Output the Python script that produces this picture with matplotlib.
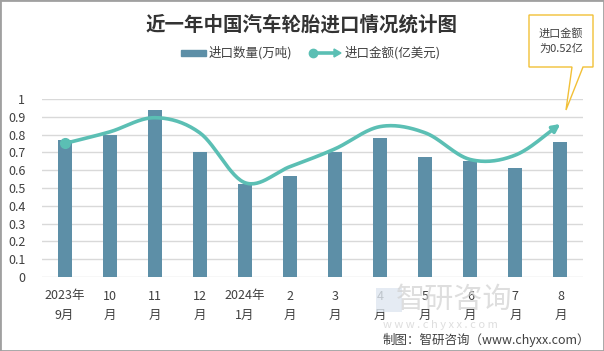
import numpy as np
import matplotlib.pyplot as plt
from matplotlib.patches import Rectangle, Polygon

plt.rcParams['font.family'] = ['Noto Sans CJK SC', 'DejaVu Sans']

# data
months = ['2023年\n9月', '10\n月', '11\n月', '12\n月', '2024年\n1月', '2\n月',
          '3\n月', '4\n月', '5\n月', '6\n月', '7\n月', '8\n月']
qty = [0.77, 0.80, 0.94, 0.70, 0.52, 0.57, 0.70, 0.78, 0.675, 0.65, 0.61, 0.76]   # 万吨
amount = [0.75, 0.815, 0.895, 0.81, 0.53, 0.62, 0.72, 0.845, 0.81, 0.66, 0.685, 0.86]  # 亿美元

bar_color = '#5d8fa7'
line_color = '#5bbfb4'


def catmull(xs, ys, n=30):
    # smooth line like the office chart
    xs = np.asarray(xs, float)
    ys = np.asarray(ys, float)
    px = np.concatenate([[2 * xs[0] - xs[1]], xs, [2 * xs[-1] - xs[-2]]])
    py = np.concatenate([[2 * ys[0] - ys[1]], ys, [2 * ys[-1] - ys[-2]]])
    out_x, out_y = [], []
    for i in range(1, len(px) - 2):
        t = np.linspace(0, 1, n, endpoint=False)
        for p, out in ((px, out_x), (py, out_y)):
            p0, p1, p2, p3 = p[i - 1], p[i], p[i + 1], p[i + 2]
            out.extend(0.5 * (2 * p1 + (-p0 + p2) * t + (2 * p0 - 5 * p1 + 4 * p2 - p3) * t ** 2
                              + (-p0 + 3 * p1 - 3 * p2 + p3) * t ** 3))
    out_x.append(xs[-1])
    out_y.append(ys[-1])
    return np.array(out_x), np.array(out_y)


fig = plt.figure(figsize=(6.04, 3.51), dpi=100)

# watermark (behind everything)
fig.patches.append(Rectangle((376 / 604, 1 - 312 / 351), 26 / 604, 24 / 351, transform=fig.transFigure,
                             facecolor='#dfe7f0', edgecolor='none', alpha=0.8))
fig.text(454 / 604, 1 - 300 / 351, '智研咨询', ha='center', va='center', fontsize=21,
         color='#d0d0d0', alpha=0.7)
fig.text(440 / 604, 1 - 325 / 351, 'w w w . c h y x x . c o m', ha='center', va='center', fontsize=8,
         color='#d0d0d0', alpha=0.7)

ax = fig.add_axes([42 / 604, 74 / 351, 541 / 604, 178 / 351])
ax.patch.set_alpha(0)

x = np.arange(len(months))
ax.bar(x, qty, width=0.31, color=bar_color, zorder=2)

sx, sy = catmull(x, amount)
ax.plot(sx[:-4], sy[:-4], color=line_color, lw=2.6, zorder=3, solid_capstyle='round')
ax.annotate('', xy=(x[-1], amount[-1]), xytext=(sx[-6], sy[-6]),
            arrowprops=dict(arrowstyle='-|>', color=line_color, lw=2.6,
                            mutation_scale=11, shrinkA=0, shrinkB=0), zorder=3)
ax.plot(x[0], amount[0], 'o', color=line_color, ms=7, zorder=4)

ax.set_xlim(-0.5, 11.5)
ax.set_ylim(0, 1)
ax.set_yticks(np.arange(0, 1.01, 0.1))
ax.set_yticklabels(['0', '0.1', '0.2', '0.3', '0.4', '0.5', '0.6', '0.7', '0.8', '0.9', '1'])
ax.set_xticks(x)
ax.set_xticklabels(months, linespacing=1.6)
ax.tick_params(length=0, labelsize=9, colors='#404040')
ax.tick_params(axis='y', pad=12)
ax.tick_params(axis='x', pad=9)
ax.grid(axis='y', color='#d9d9d9', lw=1, zorder=0)
for s in ax.spines.values():
    s.set_visible(False)

# title and legend
fig.text(0.5, 1 - 25 / 351, '近一年中国汽车轮胎进口情况统计图', ha='center', va='center',
         fontsize=14, fontweight='bold', color='#333333')
fig.patches.append(Rectangle((181 / 604, 1 - 56 / 351), 25 / 604, 6 / 351,
                             transform=fig.transFigure, color=bar_color))
fig.text(209 / 604, 1 - 53 / 351, '进口数量(万吨)', va='center', fontsize=9, color='#404040')
fig.lines.append(plt.Line2D([313 / 604, 335 / 604], [1 - 53 / 351] * 2, transform=fig.transFigure,
                            color=line_color, lw=2.6, marker=None))
fig.lines.append(plt.Line2D([313 / 604], [1 - 53 / 351], transform=fig.transFigure,
                            color=line_color, marker='o', ms=6))
fig.patches.append(Polygon([[334 / 604, 1 - 49 / 351], [341 / 604, 1 - 53 / 351], [334 / 604, 1 - 57 / 351]],
                           transform=fig.transFigure, color=line_color))
fig.text(345 / 604, 1 - 53 / 351, '进口金额(亿美元)', va='center', fontsize=9, color='#404040')

# callout
box = [[529, 15], [593, 15], [593, 67], [583, 67], [566, 110], [572, 67], [529, 67]]
fig.patches.append(Polygon([[px / 604, 1 - py / 351] for px, py in box], closed=True,
                           transform=fig.transFigure, facecolor='white', edgecolor='#f2c037', lw=1))
fig.text(561 / 604, 1 - 41 / 351, '进口金额\n为0.52亿', ha='center', va='center', fontsize=8,
         color='#404040', linespacing=1.6)

fig.text(590 / 604, 1 - 340 / 351, '制图：智研咨询（www.chyxx.com）', ha='right', va='center',
         fontsize=9, color='#404040')

fig.patches.append(Rectangle((0, 0), 1, 1, transform=fig.transFigure, fill=False,
                             edgecolor='#a0a0a0', lw=2))

plt.savefig('out.png', dpi=100)
